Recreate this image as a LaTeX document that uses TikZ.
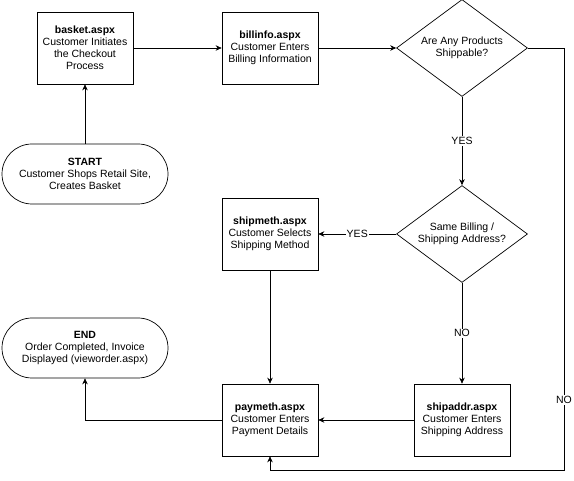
\documentclass[tikz,border=0pt]{standalone}
\usepackage{fontspec}
\setmainfont{Liberation Sans}
\usetikzlibrary{shapes.geometric,arrows.meta}
\tikzstyle{rectpaso} = [rectangle, minimum width=96pt, minimum height=72pt, align=center, draw=black, fill=white, inner sep=2pt]
\tikzstyle{rombo} = [diamond, minimum width=131pt, minimum height=97pt, aspect=1.35, align=center, draw=black, fill=white, inner sep=0pt]
\tikzstyle{terminal} = [rectangle, rounded corners=30pt, minimum width=166pt, minimum height=60pt, align=center, draw=black, fill=white]
\tikzstyle{arrow} = [->,>={Stealth[length=6pt,width=5.5pt]}]
\tikzstyle{etiqueta} = [fill=white, inner sep=1pt]

\begin{document}
\begin{tikzpicture}[node distance=186pt, line width=0.7pt, font=\fontsize{10.5}{12}\selectfont]
    \useasboundingbox (0,0) rectangle (574pt,-481pt);
    	% Cuadros
    	\node (basket) [rectpaso] at (85pt,-48pt) {\textbf{basket.aspx}\\Customer Initiates\\the Checkout\\Process};
    	\node (billinfo) [rectpaso,right of=basket,node distance=185pt] {\textbf{billinfo.aspx}\\Customer Enters\\Billing Information};
    	\node (dec1) [rombo,right of=billinfo,node distance=192pt] {Are Any Products\\Shippable?};
    	\node (dec2) [rombo,below of=dec1] {Same Billing /\\Shipping Address?};
    	\node (shipmeth) [rectpaso,left of=dec2,node distance=192pt] {\textbf{shipmeth.aspx}\\Customer Selects\\Shipping Method};
    	\node (shipaddr) [rectpaso,below of=dec2] {\textbf{shipaddr.aspx}\\Customer Enters\\Shipping Address};
    	\node (paymeth) [rectpaso,below of=shipmeth] {\textbf{paymeth.aspx}\\Customer Enters\\Payment Details};
    	\node (inicio) [terminal,below of=basket,node distance=126pt] {\textbf{START}\\Customer Shops Retail Site,\\Creates Basket};
    	\node (fin) [terminal,below of=inicio,node distance=174pt] {\textbf{END}\\Order Completed, Invoice\\Displayed (vieworder.aspx)};
    	\coordinate [right of=dec1,node distance=102pt] (giro);
    	\coordinate [below of=paymeth,node distance=50pt] (abajo);
    	% Flechas
        \draw[arrow] (inicio) -- (basket);
        \draw[arrow] (basket) -- (billinfo);
        \draw[arrow] (billinfo) -- (dec1);
        \draw[arrow] (dec1) -- node[etiqueta] {YES} (dec2);
        \draw[arrow] (dec2) -- node[etiqueta] {YES} (shipmeth);
        \draw[arrow] (dec2) -- node[etiqueta] {NO} (shipaddr);
        \draw[arrow] (shipmeth) -- (paymeth);
        \draw[arrow] (shipaddr) -- (paymeth);
        \draw[arrow] (paymeth.west) -| (fin.south);
        \draw[arrow] (dec1.east) -- (giro) -- node[etiqueta,pos=0.834] {NO} (giro |- abajo) -- (abajo) -- (paymeth.south);
    
    \end{tikzpicture}
\end{document}
